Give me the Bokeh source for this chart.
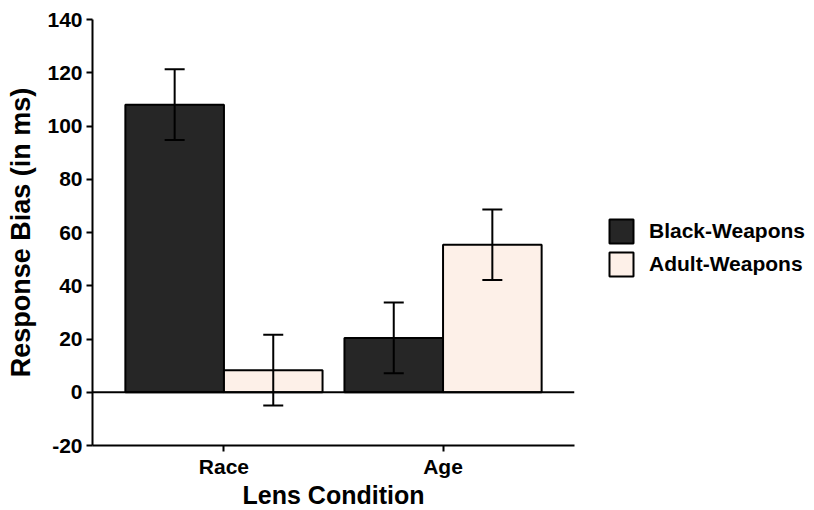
from bokeh.plotting import figure
from bokeh.models import (ColumnDataSource, Whisker, TeeHead, Span, Legend, LegendItem,
                          Range1d, FixedTicker)
from bokeh.embed import file_html
from bokeh.resources import INLINE

# ---- data ----
conditions = ["Race", "Age"]
black_weapons = [108.0, 20.4]
black_err = [13.3, 13.3]
adult_weapons = [8.3, 55.4]
adult_err = [13.3, 13.2]
y_ticks = [-20, 0, 20, 40, 60, 80, 100, 120, 140]

FONT = "Liberation Sans"
DARK = "#262626"
LIGHT = "#FDF0E8"
BAR_W = 0.45

cat_pos = [i + 1 for i in range(len(conditions))]
black_x = [c - BAR_W / 2 for c in cat_pos]
adult_x = [c + BAR_W / 2 for c in cat_pos]

src_b = ColumnDataSource(dict(x=black_x, top=black_weapons,
                              upper=[v + e for v, e in zip(black_weapons, black_err)],
                              lower=[v - e for v, e in zip(black_weapons, black_err)]))
src_a = ColumnDataSource(dict(x=adult_x, top=adult_weapons,
                              upper=[v + e for v, e in zip(adult_weapons, adult_err)],
                              lower=[v - e for v, e in zip(adult_weapons, adult_err)]))

p = figure(frame_width=482, frame_height=426, output_backend="svg", toolbar_location=None,
           x_range=Range1d(0.4, 2.6), y_range=Range1d(-20, 140),
           min_border_left=92, min_border_top=19, min_border_bottom=4, min_border_right=6,
           background_fill_color="white", border_fill_color="white")
p.outline_line_color = None
p.grid.visible = False

rb = p.vbar(x="x", top="top", bottom=0, width=BAR_W, source=src_b,
            fill_color=DARK, line_color="black", line_width=2)
ra = p.vbar(x="x", top="top", bottom=0, width=BAR_W, source=src_a,
            fill_color=LIGHT, line_color="black", line_width=2)

p.add_layout(Span(location=0, dimension="width", line_color="black", line_width=2))

for src in (src_b, src_a):
    w = Whisker(base="x", upper="upper", lower="lower", source=src,
                line_color="black", line_width=2, level="annotation",
                upper_head=TeeHead(size=20, line_width=2, line_color="black"),
                lower_head=TeeHead(size=20, line_width=2, line_color="black"))
    p.add_layout(w)

# axes
p.yaxis.ticker = FixedTicker(ticks=y_ticks)
p.yaxis.major_label_overrides = {t: str(t) for t in y_ticks}
p.xaxis.ticker = FixedTicker(ticks=cat_pos)
p.xaxis.major_label_overrides = {c: name for c, name in zip(cat_pos, conditions)}
for ax in (p.xaxis[0], p.yaxis[0]):
    ax.axis_line_width = 2
    ax.axis_line_color = "black"
    ax.major_tick_line_width = 2
    ax.major_tick_line_color = "black"
    ax.major_tick_out = 6
    ax.major_tick_in = 0
    ax.minor_tick_line_color = None
    ax.major_label_text_font = FONT
    ax.major_label_text_font_style = "bold"
    ax.major_label_text_font_size = "21px"
    ax.major_label_text_color = "black"
    ax.axis_label_text_font = FONT
    ax.axis_label_text_font_style = "bold"
    ax.axis_label_text_color = "black"
p.xaxis.axis_label = "Lens Condition"
p.yaxis.axis_label = "Response Bias (in ms)"
p.xaxis.axis_label_text_font_size = "25px"
p.yaxis.axis_label_text_font_size = "27px"
p.xaxis.major_label_standoff = 3
p.yaxis.major_label_standoff = 4
p.xaxis.axis_label_standoff = 0
p.yaxis.axis_label_standoff = 8

legend = Legend(items=[LegendItem(label="Black-Weapons", renderers=[rb]),
                       LegendItem(label="Adult-Weapons", renderers=[ra])],
                location=(32, 166), orientation="vertical")
legend.glyph_width = 30
legend.glyph_height = 30
legend.label_height = 30
legend.spacing = 3
legend.padding = 0
legend.margin = 0
legend.label_standoff = 13
legend.label_text_font = FONT
legend.label_text_font_style = "bold"
legend.label_text_font_size = "21px"
legend.label_text_color = "black"
legend.border_line_color = None
legend.background_fill_alpha = 0
p.add_layout(legend, "right")

open("out.html", "w").write(file_html(p, INLINE))
